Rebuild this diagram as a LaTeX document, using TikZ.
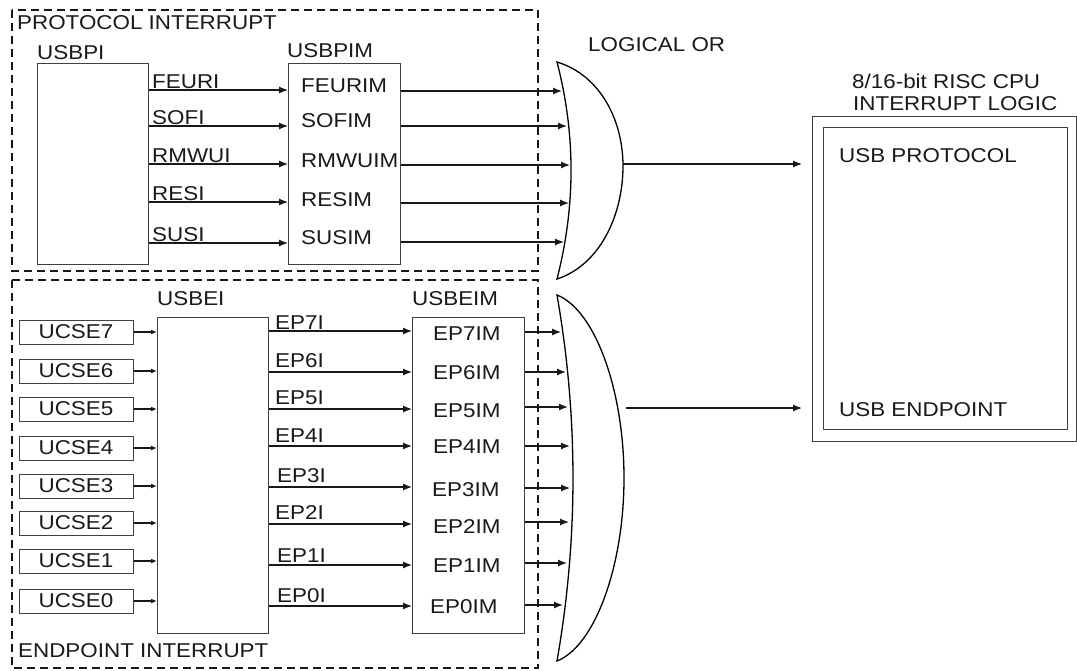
\documentclass[tikz,border=0pt]{standalone}
\usepackage{fontspec}
\newfontfamily\labfont[FakeStretch=1.12]{Liberation Sans}
\usetikzlibrary{arrows.meta}
\begin{document}
\begin{tikzpicture}[x=1pt,y=-1pt,
  every node/.style={font=\labfont\fontsize{20}{22}\selectfont, inner sep=0pt, text=black!90},
  box/.style={draw=black!75, line width=1pt, fill=white},
  arr/.style={line width=1.2pt, draw=black!90, -{Latex[length=9pt,width=7pt]}},
  sarr/.style={line width=1.2pt, draw=black!90, -{Latex[length=6pt,width=5pt]}},
  dbox/.style={draw=black!90, line width=1.2pt, dash pattern=on 8pt off 5pt},
  gate/.style={draw=black, line width=1.3pt, fill=white},
  lbl/.style={anchor=base west},
]
\useasboundingbox (0,0) rectangle (1077,670);
\fill[white] (0,0) rectangle (1077,670);

% group frames
\draw[dbox] (12,10) rectangle (538,271);
\draw[dbox] (12,280) rectangle (538,668);
\node[lbl] (plbl) at (17,29) {PROTOCOL INTERRUPT};
\node[lbl] (elbl) at (18,657) {ENDPOINT INTERRUPT};

% protocol registers
\node[box, anchor=north west, minimum width=111pt, minimum height=201pt] (usbpi) at (37,63) {};
\node[box, anchor=north west, minimum width=112pt, minimum height=201pt] (usbpim) at (288,63) {};
\node[lbl] (usbpilbl) at (37,59) {USBPI};
\node[lbl] (usbpimlbl) at (287,57) {USBPIM};

% logical OR gates
\node[lbl] (orlbl) at (588,51) {LOGICAL OR};
\coordinate (g1top) at (557,62);
\coordinate (g1bot) at (557,279);
\coordinate (g1out) at (623,164);
\draw[gate] (g1top) .. controls (600,75) and (623,120) .. (623,166)
  .. controls (623,215) and (600,265) .. (g1bot)
  .. controls (575.7,206) and (575.7,134) .. (g1top) -- cycle;
\coordinate (g2top) at (557,295);
\coordinate (g2bot) at (557,661);
\coordinate (g2out) at (626,408);
\draw[gate] (g2top) .. controls (595,310) and (624,390) .. (624,478)
  .. controls (624,566) and (595,646) .. (g2bot)
  .. controls (578.3,539) and (578.3,417) .. (g2top) -- cycle;

% protocol signals
\foreach \s/\ly/\lb/\m/\mb/\oy/\tx [count=\k] in {
  FEURI/90/88/FEURIM/92/91/562,
  SOFI/126/124.5/SOFIM/127/126/567,
  RMWUI/164/162.5/RMWUIM/167/165/570,
  RESI/202/200.5/RESIM/206/203/569,
  SUSI/243/241/SUSIM/244/242/564}{
  \coordinate (pin\k) at (0,\ly);
  \coordinate (gin\k) at (\tx,\oy);
  \draw[arr] (usbpi.east |- pin\k) -- (usbpim.west |- pin\k);
  \node[lbl] (pl\k) at (152,\lb) {\s};
  \node[lbl] (pml\k) at (301,\mb) {\m};
  \draw[arr] (usbpim.east |- gin\k) -- (gin\k);
}

% endpoint registers
\node[box, anchor=north west, minimum width=111pt, minimum height=316pt] (usbei) at (157,317) {};
\node[box, anchor=north west, minimum width=112pt, minimum height=316pt] (usbeim) at (412,317) {};
\node[lbl] (usbeilbl) at (157,305) {USBEI};
\node[lbl] (usbeimlbl) at (412,305) {USBEIM};

\foreach \n/\uy/\ly/\lb/\lx/\mb/\mx/\oy/\tx in {
  7/332/331/329/275/340/433/332/561,
  6/371/372/367/275/379/433/372/566,
  5/409/409/404/275/417/433/407/568,
  4/448/446/442/275/453/433/446/570,
  3/486/487/482/277/496/432/488/570,
  2/523/524/519/275/533/433/522/569,
  1/561/565/562/277/572/433/563/567,
  0/601/606/602/277/613/430/605/563}{
  \node[box, minimum width=114pt, minimum height=24pt] (ucse\n) at (76,\uy) {UCSE\n};
  \draw[sarr] (ucse\n.east) -- (usbei.west |- ucse\n.east);
  \coordinate (ein\n) at (0,\ly);
  \draw[arr] (usbei.east |- ein\n) -- (usbeim.west |- ein\n);
  \node[lbl] (epl\n) at (\lx,\lb) {EP\n I};
  \node[lbl] (epml\n) at (\mx,\mb) {EP\n IM};
  \coordinate (gein\n) at (\tx,\oy);
  \draw[arr] (usbeim.east |- gein\n) -- (gein\n);
}

% CPU interrupt logic
\node[lbl] (cpul1) at (852,88) {8/16-bit RISC CPU};
\node[lbl] (cpul2) at (853,110) {INTERRUPT LOGIC};
\node[box, line width=1.3pt, anchor=north west, minimum width=264pt, minimum height=325pt] (cpu) at (812,116) {};
\node[box, line width=1.3pt, anchor=north west, minimum width=244pt, minimum height=302pt] (cpuin) at (823,127) {};
\node[lbl] (usbprot) at (839,162) {USB PROTOCOL};
\node[lbl] (usbend) at (839,416) {USB ENDPOINT};
\coordinate (cpuin1) at (802,164);
\coordinate (cpuin2) at (802,408);
\draw[arr] (g1out) -- (cpuin1);
\draw[arr] (g2out) -- (cpuin2);
\end{tikzpicture}
\end{document}
